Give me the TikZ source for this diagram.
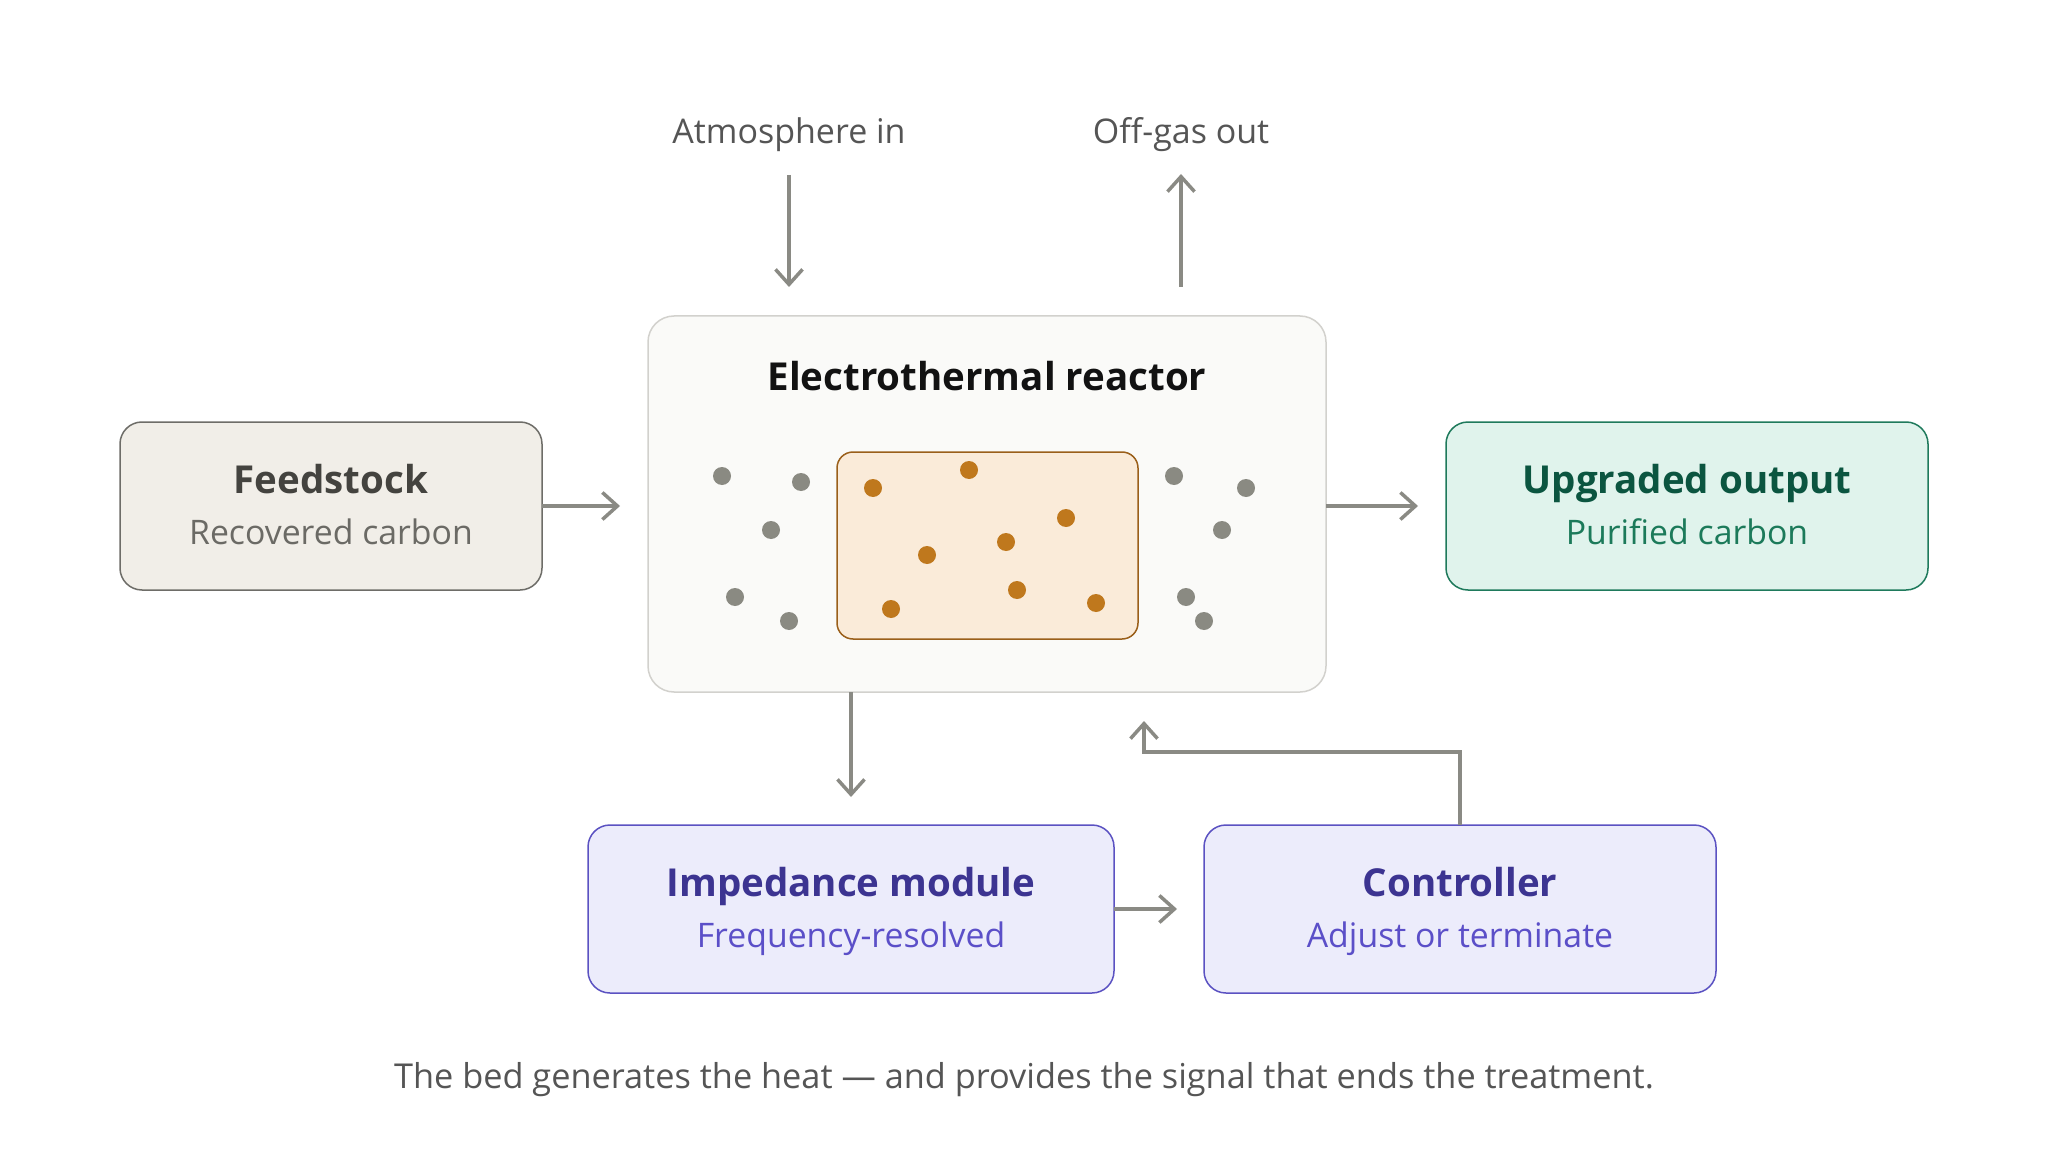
\documentclass[tikz,border=0pt]{standalone}
\usepackage{fontspec}
\setmainfont{Open Sans}
\usetikzlibrary{arrows.meta}
\definecolor{arrowc}{HTML}{8A8A84}
\definecolor{feedfill}{HTML}{F1EEE8}
\definecolor{feeddraw}{HTML}{6E6D68}
\definecolor{feedtitle}{HTML}{44433F}
\definecolor{feedsub}{HTML}{6B6A65}
\definecolor{reacfill}{HTML}{FAFAF8}
\definecolor{reacdraw}{HTML}{D2D1CD}
\definecolor{bedfill}{HTML}{FAEBD9}
\definecolor{beddraw}{HTML}{9A5F1A}
\definecolor{orangedot}{HTML}{BF781D}
\definecolor{greydot}{HTML}{8A8A82}
\definecolor{outfill}{HTML}{E0F3EC}
\definecolor{outdraw}{HTML}{1F7A5C}
\definecolor{outtitle}{HTML}{0B5540}
\definecolor{outsub}{HTML}{1C7A5A}
\definecolor{modfill}{HTML}{ECECFB}
\definecolor{moddraw}{HTML}{5B52C2}
\definecolor{modtitle}{HTML}{3C3491}
\definecolor{modsub}{HTML}{5B4FC8}
\definecolor{labelc}{HTML}{555555}
\begin{document}
\begin{tikzpicture}[x=1pt,y=-1pt,
  box/.style={rectangle, rounded corners=22pt, line width=1.5pt, inner sep=0pt, outer sep=0pt},
  ttl/.style={anchor=base, inner sep=0pt, font=\bfseries\fontsize{38.5}{44}\selectfont},
  sub/.style={anchor=base, inner sep=0pt, font=\fontsize{33.8}{40}\selectfont},
  lbl/.style={anchor=base, inner sep=0pt, text=labelc, font=\fontsize{34}{40}\selectfont},
  arr/.style={draw=arrowc, line width=3.5pt, -{Straight Barb[length=15pt,width=27pt,line width=3.5pt]}},
  gdot/.style={fill=greydot},
  odot/.style={fill=orangedot}
]
\useasboundingbox (0,0) rectangle (2048,1174);
\fill[white] (0,0) rectangle (2048,1174);

% boxes
\node[box, fill=feedfill, draw=feeddraw, minimum width=422pt, minimum height=168pt] (feed) at (331,506) {};
\node[box, fill=reacfill, draw=reacdraw, rounded corners=26pt, minimum width=678pt, minimum height=376pt] (reactor) at (987,504) {};
\node[box, fill=bedfill, draw=beddraw, rounded corners=16pt, minimum width=301pt, minimum height=187pt] (bed) at (987.5,545.5) {};
\node[box, fill=outfill, draw=outdraw, minimum width=482pt, minimum height=168pt] (out) at (1687,506) {};
\node[box, fill=modfill, draw=moddraw, minimum width=526pt, minimum height=168pt] (imp) at (851,909) {};
\node[box, fill=modfill, draw=moddraw, minimum width=512pt, minimum height=168pt] (ctrl) at (1460,909) {};

% texts
\node[ttl, text=feedtitle] (feedT) at (331,493) {Feedstock};
\node[sub, text=feedsub] (feedS) at (331,544) {Recovered carbon};
\node[ttl, text=black!93] (reacT) at (987,390) {Electrothermal reactor};
\node[ttl, text=outtitle] (outT) at (1687,493) {Upgraded output};
\node[sub, text=outsub] (outS) at (1687,544) {Purified carbon};
\node[ttl, text=modtitle] (impT) at (851,896) {Impedance module};
\node[sub, text=modsub] (impS) at (851,947) {Frequency-resolved};
\node[ttl, text=modtitle] (ctrlT) at (1460,896) {Controller};
\node[sub, text=modsub] (ctrlS) at (1460,947) {Adjust or terminate};
\node[lbl] (atm) at (789,144) {Atmosphere in};
\node[lbl] (offgas) at (1181,144) {Off-gas out};
\node[anchor=base, inner sep=0pt, text=labelc, font=\fontsize{34.3}{40}\selectfont] (caption) at (1024,1088) {The bed generates the heat — and provides the signal that ends the treatment.};

% particles
\foreach \x/\y in {722/476, 801/482, 771/530, 735/597, 789/621, 1174/476, 1246/488, 1222/530, 1186/597, 1204/621}
  \fill[gdot] (\x,\y) circle[radius=9pt];
\foreach \x/\y in {873/488, 969/470, 1066/518, 1006/542, 927/555, 1017/590, 1096/603, 891/609}
  \fill[odot] (\x,\y) circle[radius=9pt];

% connectors
\coordinate (atmEnd) at (789,287);
\coordinate (atmStart) at (789,175);
\coordinate (offStart) at (1181,287);
\coordinate (offEnd) at (1181,174);
\draw[arr] (atmStart) -- (atmEnd);
\draw[arr] (offStart) -- (offEnd);
\draw[arr, shorten >=28pt] (feed.east) -- (reactor.west |- feed.east);
\draw[arr, shorten >=28pt] (reactor.east |- out.west) -- (out.west);
\draw[arr, shorten >=28pt] (reactor.south -| imp.north) -- (imp.north);
\draw[arr, shorten >=27pt] (imp.east) -- (ctrl.west);
\draw[arr, shorten >=29pt] (ctrl.north) -- (1460,752) -- (1144,752) -- (reactor.south -| 1144,0);
\end{tikzpicture}
\end{document}
